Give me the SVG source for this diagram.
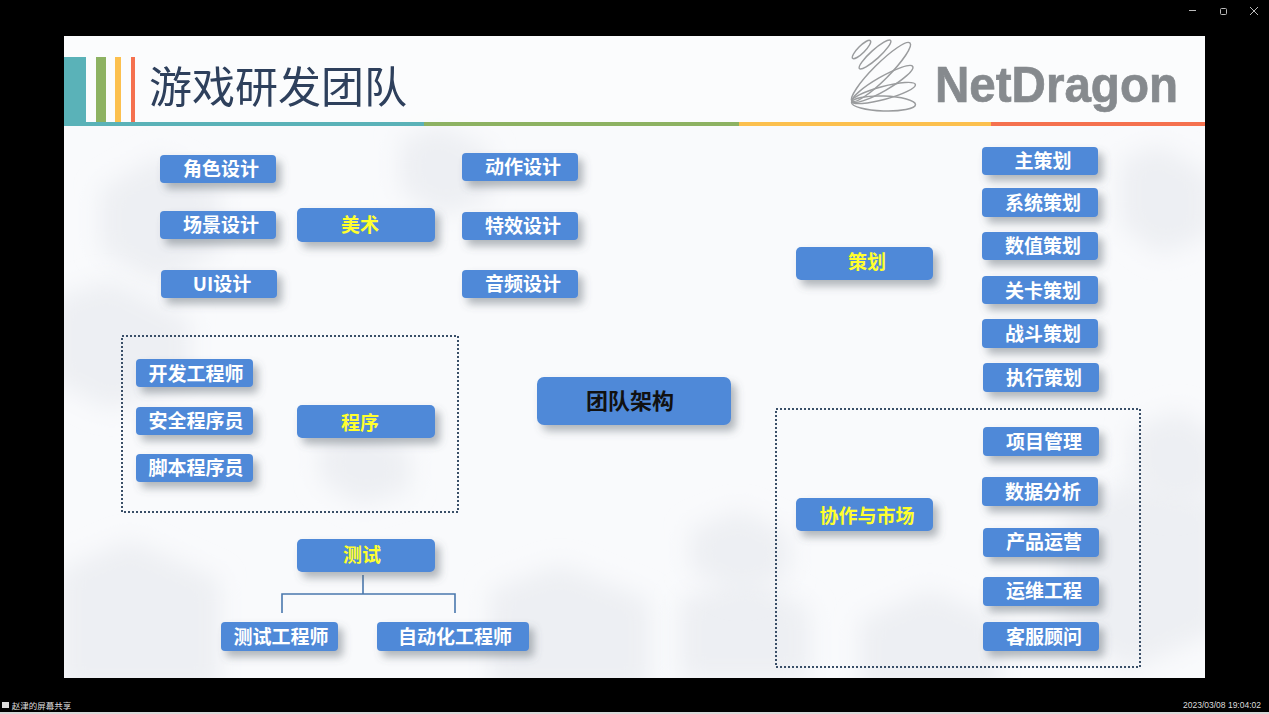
<svg xmlns="http://www.w3.org/2000/svg" width="1269" height="714" viewBox="0 0 1269 714">
<defs>
<filter id="shadow" x="-20%" y="-30%" width="150%" height="190%">
<feDropShadow dx="5" dy="6" stdDeviation="4.5" flood-color="#56606c" flood-opacity="0.45"/>
</filter>
<filter id="soft" x="-30%" y="-30%" width="160%" height="160%"><feGaussianBlur stdDeviation="12"/></filter>
<filter id="ink"><feGaussianBlur stdDeviation="0.4"/></filter>
<clipPath id="slideClip"><rect x="64" y="36" width="1141" height="642"/></clipPath>
<style>
.box{fill:#4f89d8;filter:url(#shadow)}
text{font-family:"Noto Sans CJK SC","Liberation Sans",sans-serif;text-anchor:middle}
.lb{font-size:19px;font-weight:700;fill:#fff}
.hd{font-size:19px;font-weight:700;fill:#ffff2e}
.frame{fill:none;stroke:#3a4f68;stroke-width:2;stroke-dasharray:2 2}
.cn{fill:none;stroke:#4a78ad;stroke-width:1.6}
.sc{fill:none;stroke:#9a9c9e;stroke-width:1.5}
.cl{fill:#edeff3;filter:url(#soft)}
</style>
</defs>
<rect width="1269" height="714" fill="#000"/>
<rect x="0" y="712" width="1269" height="2" fill="#d8d8d8"/>

<!-- slide background with pale hexagon clouds -->
<g id="slide">
<rect x="64" y="36" width="1141" height="642" fill="#f9fafc"/>
<g clip-path="url(#slideClip)">
<path class="cl" d="M100 190l60-35 60 35v60l-60 35-60-35z"/>
<path class="cl" d="M400 140l40-15 50 25v50l-50 15-40-25z"/>
<path class="cl" d="M50 300l60-20 80 40v60l-80 30-60-30z"/>
<path class="cl" d="M60 570l70-30 90 40v110H60z"/>
<path class="cl" d="M490 590l70-25 90 35v90H490z"/>
<path class="cl" d="M680 600l70-25 60 35v70H680z"/>
<path class="cl" d="M860 620l70-30 70 30v70H860z"/>
<path class="cl" d="M1060 520l70-40 90 20v130l-90 40-70-40z"/>
<path class="cl" d="M1130 430l50-20 40 30v50l-50 20-40-30z"/>
<path class="cl" d="M320 440l40-15 50 25v40l-50 15-40-25z"/>
<path class="cl" d="M1120 160l40-15 50 30v60l-50 20-40-30z"/>
<path class="cl" d="M690 530l50-20 50 25v40l-50 20-50-25z"/>
</g>
<rect x="64" y="36" width="1141" height="86" fill="#fbfcfd" opacity="0.8"/>
</g>

<!-- header -->
<g id="header">
<rect x="64" y="57" width="22" height="65" fill="#5ab2b8"/>
<rect x="96" y="57" width="10" height="65" fill="#8db262"/>
<rect x="115" y="57" width="6" height="65" fill="#fcc04e"/>
<rect x="131" y="57" width="4" height="65" fill="#f5714f"/>
<rect x="64" y="122" width="360" height="4" fill="#5ab2b8"/>
<rect x="424" y="122" width="315" height="4" fill="#8db262"/>
<rect x="739" y="122" width="252" height="4" fill="#fcc04e"/>
<rect x="991" y="122" width="214" height="4" fill="#f5714f"/>
<text x="278" y="103" font-size="43" fill="#2d3f5c" filter="url(#ink)">游戏研发团队</text>
</g>

<!-- logo: looped petals fanning out from a single point -->
<g id="logo">
<g class="sc">
<ellipse cx="883.5" cy="103.5" rx="32" ry="7.5" transform="rotate(2 883.5 103.5)"/>
<ellipse cx="883.5" cy="93" rx="33" ry="6.5" transform="rotate(-15 883.5 93)"/>
<ellipse cx="882.5" cy="84" rx="35" ry="7" transform="rotate(-30 882.5 84)"/>
<ellipse cx="881" cy="72" rx="41" ry="8" transform="rotate(-45 881 72)"/>
<ellipse cx="875" cy="54.5" rx="21" ry="4.5" transform="rotate(-42 875 54.5)"/>
<ellipse cx="861.5" cy="49.5" rx="12.5" ry="3.5" transform="rotate(-45 861.5 49.5)"/>
</g>
<text x="1056.5" y="102" font-size="50" font-weight="700" fill="#868a8e" stroke="#868a8e" stroke-width="0.7" style="font-family:'Liberation Sans',sans-serif" textLength="243" lengthAdjust="spacingAndGlyphs">NetDragon</text>
</g>

<!-- frames around grouped teams -->
<g id="frames">
<rect class="frame" x="122" y="336" width="336" height="176"/>
<rect class="frame" x="776" y="409" width="364" height="258"/>
</g>

<!-- connectors -->
<g id="connectors">
<path class="cn" d="M363 575V594M282 613V594H455V613"/>
</g>

<!-- art -->
<g id="n-art"><rect class="box" x="297" y="208" width="138" height="34" rx="5"/><text class="hd" x="360" y="232">美术</text></g>
<g id="n-role"><rect class="box" x="160" y="155" width="116" height="28" rx="4"/><text class="lb" x="221" y="176">角色设计</text></g>
<g id="n-scene"><rect class="box" x="160" y="211" width="116" height="28" rx="4"/><text class="lb" x="221" y="232">场景设计</text></g>
<g id="n-ui"><rect class="box" x="161" y="270" width="116" height="28" rx="4"/><text class="lb" x="222" y="291">UI设计</text></g>
<g id="n-motion"><rect class="box" x="462" y="153" width="116" height="28" rx="4"/><text class="lb" x="523" y="174">动作设计</text></g>
<g id="n-vfx"><rect class="box" x="462" y="212" width="116" height="28" rx="4"/><text class="lb" x="523" y="233">特效设计</text></g>
<g id="n-audio"><rect class="box" x="462" y="270" width="116" height="28" rx="4"/><text class="lb" x="523" y="291">音频设计</text></g>

<!-- programming -->
<g id="n-prog"><rect class="box" x="297" y="405" width="138" height="33" rx="5"/><text class="hd" x="360" y="430">程序</text></g>
<g id="n-dev"><rect class="box" x="136" y="359" width="117" height="28" rx="4"/><text class="lb" x="196" y="381">开发工程师</text></g>
<g id="n-sec"><rect class="box" x="136" y="407" width="117" height="28" rx="4"/><text class="lb" x="196" y="428">安全程序员</text></g>
<g id="n-script"><rect class="box" x="136" y="454" width="117" height="28" rx="4"/><text class="lb" x="196" y="475">脚本程序员</text></g>

<!-- testing -->
<g id="n-test"><rect class="box" x="297" y="539" width="138" height="33" rx="5"/><text class="hd" x="362" y="562">测试</text></g>
<g id="n-tester"><rect class="box" x="221" y="622" width="117" height="29" rx="4"/><text class="lb" x="281" y="644">测试工程师</text></g>
<g id="n-auto"><rect class="box" x="377" y="622" width="152" height="29" rx="4"/><text class="lb" x="455" y="644">自动化工程师</text></g>

<!-- centre -->
<g id="n-root"><rect class="box" x="537" y="377" width="194" height="48" rx="7"/><text x="630" y="409" font-size="22" font-weight="700" fill="#111">团队架构</text></g>

<!-- design -->
<g id="n-design"><rect class="box" x="796" y="247" width="137" height="33" rx="5"/><text class="hd" x="867" y="269">策划</text></g>
<g id="n-lead"><rect class="box" x="982" y="147" width="116" height="28" rx="4"/><text class="lb" x="1043" y="168">主策划</text></g>
<g id="n-sys"><rect class="box" x="982" y="188" width="116" height="29" rx="4"/><text class="lb" x="1043" y="210">系统策划</text></g>
<g id="n-num"><rect class="box" x="982" y="232" width="116" height="28" rx="4"/><text class="lb" x="1043" y="253">数值策划</text></g>
<g id="n-level"><rect class="box" x="982" y="276" width="116" height="28" rx="4"/><text class="lb" x="1043" y="298">关卡策划</text></g>
<g id="n-combat"><rect class="box" x="982" y="319" width="116" height="29" rx="4"/><text class="lb" x="1043" y="341">战斗策划</text></g>
<g id="n-exec"><rect class="box" x="983" y="363" width="116" height="29" rx="4"/><text class="lb" x="1044" y="385">执行策划</text></g>

<!-- collaboration -->
<g id="n-collab"><rect class="box" x="796" y="498" width="137" height="33" rx="5"/><text class="hd" x="867" y="523">协作与市场</text></g>
<g id="n-pm"><rect class="box" x="983" y="427" width="116" height="29" rx="4"/><text class="lb" x="1044" y="449">项目管理</text></g>
<g id="n-data"><rect class="box" x="982" y="477" width="116" height="29" rx="4"/><text class="lb" x="1043" y="499">数据分析</text></g>
<g id="n-ops"><rect class="box" x="983" y="528" width="116" height="29" rx="4"/><text class="lb" x="1044" y="549">产品运营</text></g>
<g id="n-sre"><rect class="box" x="983" y="577" width="116" height="29" rx="4"/><text class="lb" x="1044" y="598">运维工程</text></g>
<g id="n-cs"><rect class="box" x="983" y="622" width="116" height="29" rx="4"/><text class="lb" x="1044" y="644">客服顾问</text></g>

<!-- window chrome -->
<g id="chrome">
<path d="M1189 10.5h7" stroke="#bbb" fill="none"/>
<rect x="1220.5" y="8.5" width="6" height="6" rx="1" fill="none" stroke="#bbb"/>
<path d="M1250 7l8 8M1258 7l-8 8" stroke="#bbb" fill="none"/>
<rect x="2" y="702" width="7" height="6" fill="#ddd"/>
<text x="41.5" y="709" font-size="8.5" fill="#ddd">赵津的屏幕共享</text>
<text x="1222" y="708" font-size="8.5" fill="#ddd" style="font-family:'Liberation Sans',sans-serif">2023/03/08 19:04:02</text>
</g>
</svg>
